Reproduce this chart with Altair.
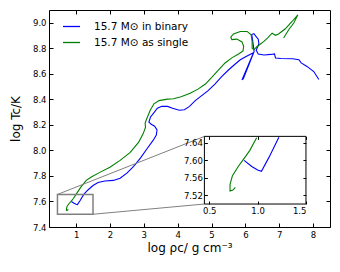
import altair as alt
import pandas as pd

# ---- data ----
single_x = [0.77, 0.745, 0.715, 0.715, 0.74, 0.80, 0.85, 0.92, 0.99, 1.14, 1.30, 1.45, 1.70, 2.00, 2.30,
            2.60, 2.85, 2.98, 3.05, 3.04, 3.09, 3.19, 3.30, 3.45, 3.70, 3.88, 4.10, 4.37, 4.60, 4.82,
            5.00, 5.21, 5.40, 5.60, 5.80, 5.93, 5.95, 5.90, 5.75, 5.60, 5.57, 5.65, 5.85, 6.05, 6.17,
            6.20, 6.20, 6.25, 6.34, 6.54, 6.66, 6.79, 6.89, 6.98, 7.18, 7.38, 7.55, 7.43, 7.28, 7.13]
single_y = [7.538, 7.532, 7.530, 7.545, 7.565, 7.586, 7.601, 7.623, 7.652, 7.712, 7.765, 7.792, 7.828, 7.868, 7.922,
            7.985, 8.065, 8.130, 8.180, 8.215, 8.250, 8.315, 8.365, 8.390, 8.402, 8.405, 8.420, 8.448, 8.480, 8.520,
            8.570, 8.631, 8.685, 8.725, 8.755, 8.780, 8.815, 8.850, 8.872, 8.868, 8.888, 8.912, 8.932, 8.932, 8.905,
            8.853, 8.800, 8.788, 8.812, 8.852, 8.882, 8.918, 8.902, 8.912, 8.953, 9.010, 9.062, 8.998, 8.945, 8.880]

binary_x = [0.86, 0.94, 1.00, 1.04, 1.12, 1.22, 1.35, 1.50, 1.65, 1.85, 2.10, 2.30, 2.50, 2.70, 2.90,
            3.10, 3.28, 3.37, 3.39, 3.32, 3.22, 3.15, 3.20, 3.29, 3.40, 3.53, 3.70, 3.85, 4.05, 4.20,
            4.35, 4.52, 4.90, 5.10, 5.30, 5.50, 5.65, 5.85, 6.05, 6.24, 5.90, 5.94, 6.26, 6.22, 6.19,
            6.25, 6.38, 6.40, 6.32, 6.38, 6.55, 6.75, 6.86, 6.89, 7.05, 7.40, 7.58, 7.65, 7.82, 8.02, 8.17]
binary_y = [7.600, 7.586, 7.578, 7.575, 7.608, 7.653, 7.690, 7.725, 7.748, 7.760, 7.765, 7.782, 7.822, 7.875, 7.940,
            8.015, 8.080, 8.120, 8.160, 8.190, 8.205, 8.222, 8.262, 8.292, 8.330, 8.346, 8.345, 8.330, 8.315, 8.318,
            8.345, 8.390, 8.468, 8.520, 8.578, 8.630, 8.665, 8.710, 8.740, 8.765, 8.552, 8.562, 8.775, 8.850, 8.908,
            8.915, 8.872, 8.835, 8.785, 8.755, 8.748, 8.752, 8.756, 8.724, 8.720, 8.718, 8.710, 8.686, 8.658, 8.618, 8.555]

series_names = ["15.7 M\u2299 in binary", "15.7 M\u2299 as single"]
series_colors = ["#0000ff", "#008000"]

x_domain = [0.2, 8.5]
y_domain = [7.4, 9.1]
x_ticks = [1, 2, 3, 4, 5, 6, 7, 8]
y_ticks = [7.4, 7.6, 7.8, 8.0, 8.2, 8.4, 8.6, 8.8, 9.0]

inset_x_domain = [0.45, 1.5]
inset_y_domain = [7.5, 7.655]
inset_x_ticks = [0.5, 1.0, 1.5]
inset_y_ticks = [7.52, 7.56, 7.60, 7.64]
# inset placement, in main-axis data units: x0, x1, y0, y1
inset_box = [4.79, 7.79, 7.58, 8.11]

W, H = 281, 217
FONT = "DejaVu Sans"

rows = []
for i, (x, y) in enumerate(zip(binary_x, binary_y)):
    rows.append({"x": x, "y": y, "series": series_names[0], "order": i})
for i, (x, y) in enumerate(zip(single_x, single_y)):
    rows.append({"x": x, "y": y, "series": series_names[1], "order": i})
df = pd.DataFrame(rows)

xs = alt.Scale(domain=x_domain, nice=False, zero=False)
ys = alt.Scale(domain=y_domain, nice=False, zero=False)
color = alt.Scale(domain=series_names, range=series_colors)

IN = {"expr": "-4"}
IN_S = {"expr": "-3"}

main_lines = alt.Chart(df).mark_line(strokeWidth=1.1).encode(
    x=alt.X("x:Q", scale=xs, axis=alt.Axis(orient="bottom", values=x_ticks, format="d", tickSize=IN,
                                           labelPadding=7, domain=False, grid=False, zindex=1,
                                           title="log \u03c1c/ g cm\u207b\u00b3", titleFontSize=12,
                                           titleFontWeight="normal", titlePadding=4)),
    y=alt.Y("y:Q", scale=ys, axis=alt.Axis(orient="left", values=y_ticks, format=".1f", tickSize=IN,
                                           labelPadding=7, domain=False, grid=False, zindex=1,
                                           title="log Tc/K", titleFontSize=12,
                                           titleFontWeight="normal", titlePadding=10)),
    color=alt.Color("series:N", scale=color,
                    legend=alt.Legend(orient="none", legendX=13, legendY=7, title=None,
                                      symbolType="stroke", symbolSize=289, symbolStrokeWidth=1.3,
                                      labelFontSize=10.5, labelFont=FONT, labelOffset=13,
                                      rowPadding=1, padding=0)),
    order="order:Q",
)

zoom_df = pd.DataFrame({"x0": [inset_x_domain[0]], "x1": [inset_x_domain[1]],
                        "y0": [inset_y_domain[0]], "y1": [inset_y_domain[1]]})
zoom_rect = alt.Chart(zoom_df).mark_rect(fillOpacity=0, stroke="#808080", strokeWidth=1.5).encode(
    x=alt.X("x0:Q", scale=xs, axis=alt.Axis(orient="top", values=x_ticks, labels=False, tickSize=IN,
                                            domain=False, grid=False, title=None, zindex=1)),
    x2="x1:Q",
    y=alt.Y("y0:Q", scale=ys, axis=alt.Axis(orient="right", values=y_ticks, labels=False, tickSize=IN,
                                            domain=False, grid=False, title=None, zindex=1)),
    y2="y1:Q",
)

conn_df = pd.DataFrame({
    "x": [inset_x_domain[0], inset_x_domain[1]],
    "y": [inset_y_domain[1], inset_y_domain[0]],
    "x2": [inset_box[0], inset_box[0]],
    "y2": [inset_box[3], inset_box[2]],
})
connectors = alt.Chart(conn_df).mark_rule(color="#808080", strokeWidth=1).encode(
    x=alt.X("x:Q", scale=xs, axis=None), y=alt.Y("y:Q", scale=ys, axis=None),
    x2="x2:Q", y2="y2:Q",
)

main_layer = alt.layer(main_lines, zoom_rect, connectors)

# ---- inset ----
ix0 = (inset_box[0] - x_domain[0]) / (x_domain[1] - x_domain[0]) * W
ix1 = (inset_box[1] - x_domain[0]) / (x_domain[1] - x_domain[0]) * W
iy0 = H - (inset_box[2] - y_domain[0]) / (y_domain[1] - y_domain[0]) * H
iy1 = H - (inset_box[3] - y_domain[0]) / (y_domain[1] - y_domain[0]) * H

ixs = alt.Scale(domain=inset_x_domain, range=[ix0, ix1], nice=False, zero=False)
iys = alt.Scale(domain=inset_y_domain, range=[iy0, iy1], nice=False, zero=False)

inset_frame = alt.Chart(zoom_df).mark_rect(fill="white", stroke="black", strokeWidth=1).encode(
    x=alt.X("x0:Q", scale=ixs, axis=alt.Axis(orient="bottom", offset=-(H - iy0), values=inset_x_ticks,
                                             format=".1f", tickSize=IN_S, labelPadding=5, domain=False,
                                             grid=False, title=None, zindex=1)),
    x2="x1:Q",
    y=alt.Y("y0:Q", scale=iys, axis=alt.Axis(orient="left", offset=-ix0, values=inset_y_ticks,
                                             format=".2f", tickSize=IN_S, labelPadding=5, domain=False,
                                             grid=False, title=None, zindex=1)),
    y2="y1:Q",
)

inset_lines = alt.Chart(df).transform_filter(
    (alt.datum.y <= inset_y_domain[1] + 0.001)
).mark_line(strokeWidth=1.1).encode(
    x=alt.X("x:Q", scale=ixs, axis=alt.Axis(orient="top", offset=-iy1, values=inset_x_ticks, labels=False,
                                            tickSize=IN_S, domain=False, grid=False, title=None, zindex=1)),
    y=alt.Y("y:Q", scale=iys, axis=alt.Axis(orient="right", offset=ix1 - W, values=inset_y_ticks,
                                            labels=False, tickSize=IN_S, domain=False, grid=False,
                                            title=None, zindex=1)),
    color=alt.Color("series:N", scale=color, legend=None),
    order="order:Q",
)

inset_layer = alt.layer(inset_frame, inset_lines)

chart = alt.layer(main_layer, inset_layer).resolve_scale(
    x="independent", y="independent"
).properties(
    width=W, height=H,
    autosize=alt.AutoSizeParams(type="none"),
    padding={"left": 41, "top": 2, "right": 2, "bottom": 30},
).configure_view(
    stroke="black", strokeWidth=1
).configure_axis(
    labelFont=FONT, labelFontSize=8.5, labelColor="black", tickColor="black",
    titleFont=FONT, titleColor="black",
).configure_legend(
    labelFont=FONT, labelColor="black"
)

chart.save("out.html", embed_options={"renderer": "svg", "actions": False})
